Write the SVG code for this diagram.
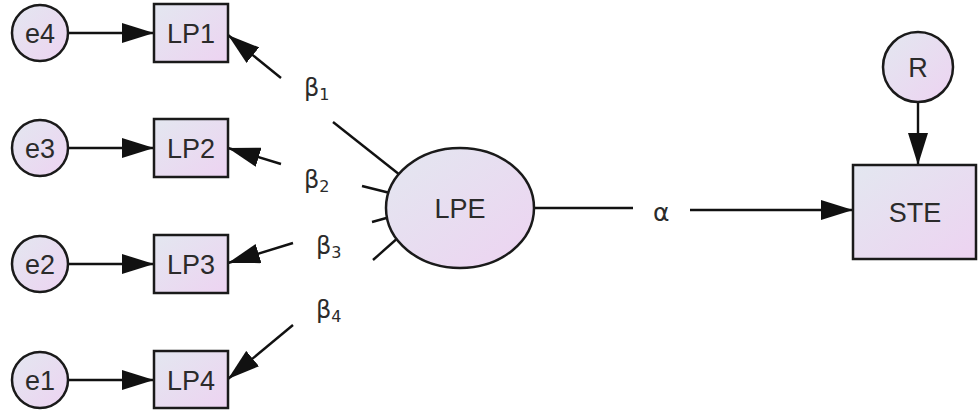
<svg xmlns="http://www.w3.org/2000/svg" width="978" height="416" viewBox="0 0 978 416">
<defs>
<linearGradient id="g" x1="0" y1="0" x2="1" y2="1">
<stop offset="0" stop-color="#e3e7f0"/>
<stop offset="1" stop-color="#edd3f1"/>
</linearGradient>
<marker id="ah" viewBox="0 0 32 20" refX="32" refY="10" markerWidth="32" markerHeight="20" markerUnits="userSpaceOnUse" orient="auto">
<path d="M0,0 L32,10 L0,20 Z" fill="#111"/>
</marker>
<style>
.n{fill:url(#g);stroke:#1a1a1a;stroke-width:2.5}
.t{font-family:"Liberation Sans",Arial,sans-serif;font-size:27px;fill:#2b2b2b;text-anchor:middle;dominant-baseline:central}
.c{stroke:#111;stroke-width:2.4;fill:none}
.a{marker-end:url(#ah)}
.g{font-family:"DejaVu Sans","Liberation Sans",sans-serif;font-size:24px;fill:#2b2b2b}
.s{font-size:16px}
</style>
</defs>
<rect width="978" height="416" fill="#fff"/>
<g id="connectors">
<line class="c a" x1="68" y1="33" x2="154" y2="33"/>
<line class="c a" x1="68" y1="148" x2="154" y2="148"/>
<line class="c a" x1="68" y1="264" x2="154" y2="264"/>
<line class="c a" x1="68" y1="380" x2="154" y2="380"/>
<line class="c" x1="400" y1="175" x2="333" y2="122"/>
<line class="c a" x1="281" y1="78" x2="228" y2="35"/>
<line class="c" x1="390" y1="193" x2="362" y2="186"/>
<line class="c a" x1="281" y1="164" x2="228" y2="148"/>
<line class="c" x1="390" y1="217" x2="372" y2="222"/>
<line class="c a" x1="293" y1="243" x2="228" y2="263"/>
<line class="c" x1="400" y1="236" x2="373" y2="260"/>
<line class="c a" x1="293" y1="325" x2="228" y2="379"/>
<line class="c" x1="534" y1="208" x2="633" y2="208"/>
<line class="c a" x1="690" y1="210" x2="853" y2="210"/>
<line class="c a" x1="918" y1="102" x2="918" y2="165"/>
<text class="g" x="304" y="96">β<tspan class="s" dy="4">1</tspan></text>
<text class="g" x="304" y="188">β<tspan class="s" dy="4">2</tspan></text>
<text class="g" x="316" y="254">β<tspan class="s" dy="4">3</tspan></text>
<text class="g" x="316" y="318">β<tspan class="s" dy="4">4</tspan></text>
<text class="g" x="653" y="221" style="font-size:25px">α</text>
</g>
<g id="e4"><circle class="n" cx="40" cy="33" r="28"/><text class="t" x="40" y="34">e4</text></g>
<g id="e3"><circle class="n" cx="40" cy="148" r="28"/><text class="t" x="40" y="149">e3</text></g>
<g id="e2"><circle class="n" cx="40" cy="264" r="28"/><text class="t" x="40" y="265">e2</text></g>
<g id="e1"><circle class="n" cx="40" cy="380" r="28"/><text class="t" x="40" y="381">e1</text></g>
<g id="LP1"><rect class="n" x="154" y="4" width="74" height="58"/><text class="t" x="191" y="34">LP1</text></g>
<g id="LP2"><rect class="n" x="154" y="119" width="74" height="58"/><text class="t" x="191" y="149">LP2</text></g>
<g id="LP3"><rect class="n" x="154" y="235" width="74" height="58"/><text class="t" x="191" y="265">LP3</text></g>
<g id="LP4"><rect class="n" x="154" y="351" width="74" height="57"/><text class="t" x="191" y="381">LP4</text></g>
<g id="LPE"><ellipse class="n" cx="460" cy="208" rx="74" ry="60"/><text class="t" x="460" y="209">LPE</text></g>
<g id="STE"><rect class="n" x="853" y="165" width="123" height="94"/><text class="t" x="915" y="213">STE</text></g>
<g id="R"><circle class="n" cx="918" cy="67" r="35"/><text class="t" x="918" y="68">R</text></g>
</svg>
